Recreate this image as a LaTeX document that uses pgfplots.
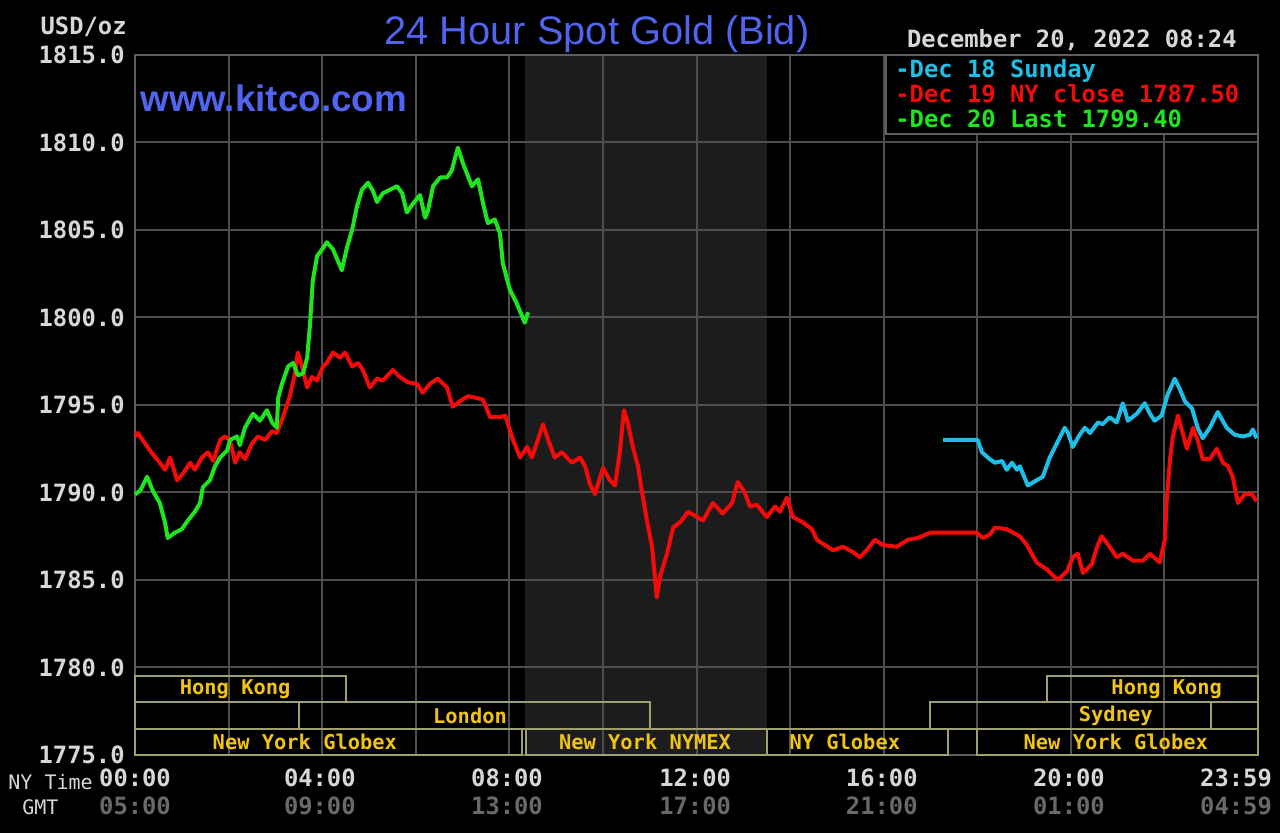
\documentclass[border=0pt]{standalone}
\usepackage{fontspec}
\setmainfont{Liberation Sans}
\newfontfamily\mono{DejaVu Sans Mono}
\usepackage{pgfplots}
\pgfplotsset{compat=1.18}
\definecolor{gridgray}{RGB}{78,78,78}
\definecolor{framegray}{RGB}{95,95,95}
\definecolor{shadegray}{RGB}{28,28,28}
\definecolor{ticktext}{RGB}{215,215,215}
\definecolor{dimtext}{RGB}{105,105,105}
\definecolor{titleblue}{RGB}{80,100,240}
\definecolor{cyanline}{RGB}{30,190,230}
\definecolor{redline}{RGB}{245,10,10}
\definecolor{greenline}{RGB}{30,230,30}
\definecolor{boxcol}{RGB}{160,160,110}
\definecolor{goldtext}{RGB}{240,195,20}
\pagecolor{black}
\newcommand\tickfont{\mono\bfseries\fontsize{11.9}{14}\selectfont}
\newcommand\sessfont{\mono\bfseries\fontsize{10.2}{12}\selectfont}
\begin{document}
\begin{tikzpicture}
\path (-67.5pt,-39pt) rectangle (572.5pt,377.5pt);
\begin{axis}[
  set layers,
  at={(0,0)}, anchor=south west,
  scale only axis, width=561.5pt, height=350pt,
  xmin=0, xmax=24, ymin=1775, ymax=1815,
  clip=false,
  axis line style={draw=framegray, line width=1pt},
  xmajorgrids=false, xminorgrids=true, ymajorgrids=true,
  major grid style={draw=gridgray, line width=1pt},
  minor grid style={draw=gridgray, line width=1pt},
  xtick={0,3.95,7.95,11.97,15.96,19.96,23.53},
  minor xtick={0,2,4,6,8,10,12,14,16,18,20,22,24},
  ytick={1775,1780,1785,1790,1795,1800,1805,1810,1815},
  major tick length=0pt, minor tick length=0pt,
  xticklabels={00:00,04:00,08:00,12:00,16:00,20:00,23:59},
  yticklabels={1775.0,1780.0,1785.0,1790.0,1795.0,1800.0,1805.0,1810.0,1815.0},
  ticklabel style={font=\tickfont, text=ticktext, inner sep=0pt},
  yticklabel style={anchor=east, xshift=-5pt},
  xticklabel style={anchor=base, yshift=-16pt},
  extra x ticks={0,3.95,7.95,11.97,15.96,19.96,23.53},
  extra x tick labels={05:00,09:00,13:00,17:00,21:00,01:00,04:59},
  extra x tick style={grid=none, xticklabel style={text=dimtext, yshift=-14pt}},
]
\begin{pgfonlayer}{axis background}
\fill[shadegray] (axis cs:8.333,1775) rectangle (axis cs:13.5,1815);
\end{pgfonlayer}
% session boxes
\draw[boxcol, line width=1pt] (axis cs:0,1778) rectangle (axis cs:4.5,1779.5);
\draw[boxcol, line width=1pt] (axis cs:19.5,1778) rectangle (axis cs:24,1779.5);
\draw[boxcol, line width=1pt] (axis cs:0,1776.5) rectangle (axis cs:3.5,1778);
\draw[boxcol, line width=1pt] (axis cs:3.5,1776.5) rectangle (axis cs:11,1778);
\draw[boxcol, line width=1pt] (axis cs:17,1776.5) rectangle (axis cs:23,1778);
\draw[boxcol, line width=1pt] (axis cs:23,1776.5) rectangle (axis cs:24,1778);
\draw[boxcol, line width=1pt] (axis cs:0,1775) rectangle (axis cs:8.27,1776.5);
\draw[boxcol, line width=1pt] (axis cs:8.36,1775) rectangle (axis cs:13.5,1776.5);
\draw[boxcol, line width=1pt] (axis cs:13.5,1775) rectangle (axis cs:17.37,1776.5);
\draw[boxcol, line width=1pt] (axis cs:18,1775) rectangle (axis cs:24,1776.5);
\tikzset{sess/.style={font=\sessfont, text=goldtext, inner sep=0pt}}
\node[sess] at (axis cs:2.14,1778.75) {Hong Kong};
\node[sess] at (axis cs:22.05,1778.75) {Hong Kong};
\node[sess] at (axis cs:7.16,1777.25) {London};
\node[sess] at (axis cs:20.96,1777.25) {Sydney};
\node[sess] at (axis cs:3.63,1775.75) {New York Globex};
\node[sess] at (axis cs:10.90,1775.75) {New York NYMEX};
\node[sess] at (axis cs:15.17,1775.75) {NY Globex};
\node[sess] at (axis cs:20.96,1775.75) {New York Globex};
% Dec 19
\addplot[redline, line width=2pt, line join=round] coordinates {
(0,1793.2)(0.06,1793.4)(0.32,1792.4)(0.53,1791.7)(0.64,1791.3)(0.75,1792.0)(0.90,1790.7)(1.03,1791.1)(1.18,1791.7)(1.28,1791.3)(1.43,1792.0)(1.56,1792.3)(1.67,1791.8)(1.82,1793.0)(1.92,1793.2)(2.03,1793.0)(2.14,1791.7)(2.24,1792.3)(2.35,1791.9)(2.50,1792.8)(2.63,1793.2)(2.78,1793.0)(2.93,1793.5)(3.03,1793.4)(3.16,1794.3)(3.31,1795.5)(3.42,1796.8)(3.48,1798.0)(3.57,1797.2)(3.68,1796.0)(3.78,1796.6)(3.89,1796.4)(4.02,1797.2)(4.10,1797.4)(4.23,1798.0)(4.38,1797.7)(4.49,1798.0)(4.64,1797.2)(4.77,1797.4)(4.87,1797.0)(5.02,1796.0)(5.17,1796.5)(5.30,1796.4)(5.51,1797.0)(5.66,1796.6)(5.83,1796.3)(6.03,1796.2)(6.15,1795.7)(6.30,1796.2)(6.47,1796.5)(6.67,1796.0)(6.79,1794.9)(6.99,1795.3)(7.12,1795.5)(7.31,1795.4)(7.44,1795.3)(7.59,1794.3)(7.80,1794.3)(7.91,1794.4)(8.08,1793.0)(8.23,1792.0)(8.38,1792.6)(8.48,1792.0)(8.61,1793.0)(8.72,1793.9)(8.83,1793.0)(8.97,1792.0)(9.12,1792.3)(9.34,1791.7)(9.51,1792.0)(9.62,1791.5)(9.72,1790.5)(9.83,1789.9)(10.00,1791.4)(10.15,1790.7)(10.26,1790.4)(10.36,1792.3)(10.45,1794.7)(10.53,1794.0)(10.64,1792.6)(10.75,1791.5)(10.83,1790.1)(10.94,1788.4)(11.05,1786.9)(11.15,1784.0)(11.22,1785.2)(11.37,1786.5)(11.50,1788.0)(11.65,1788.3)(11.82,1788.9)(12.01,1788.6)(12.14,1788.4)(12.35,1789.4)(12.56,1788.8)(12.76,1789.4)(12.88,1790.6)(13.03,1790.0)(13.14,1789.2)(13.29,1789.3)(13.50,1788.6)(13.68,1789.2)(13.78,1788.9)(13.93,1789.7)(14.06,1788.6)(14.27,1788.3)(14.47,1787.9)(14.57,1787.3)(14.74,1787.0)(14.92,1786.7)(15.13,1786.9)(15.34,1786.6)(15.49,1786.3)(15.64,1786.7)(15.81,1787.3)(15.98,1787.0)(16.28,1786.9)(16.52,1787.3)(16.73,1787.4)(16.99,1787.7)(17.99,1787.7)(18.12,1787.4)(18.27,1787.6)(18.38,1788.0)(18.63,1787.9)(18.91,1787.5)(19.06,1787.0)(19.27,1786.0)(19.49,1785.6)(19.72,1785.0)(19.92,1785.5)(20.04,1786.3)(20.15,1786.5)(20.26,1785.4)(20.45,1785.9)(20.56,1786.9)(20.66,1787.5)(20.83,1786.9)(20.98,1786.3)(21.11,1786.5)(21.33,1786.1)(21.54,1786.1)(21.69,1786.5)(21.90,1786.0)(22.01,1787.3)(22.05,1789.6)(22.12,1791.9)(22.18,1793.2)(22.29,1794.4)(22.37,1793.6)(22.48,1792.5)(22.61,1793.7)(22.71,1793.0)(22.82,1791.9)(22.97,1791.9)(23.12,1792.5)(23.25,1791.7)(23.36,1791.5)(23.46,1790.9)(23.57,1789.4)(23.72,1789.9)(23.87,1789.9)(23.97,1789.5)
};
% Dec 18
\addplot[cyanline, line width=2pt, line join=round] coordinates {
(17.27,1793.0)(18.01,1793.0)(18.10,1792.3)(18.27,1791.9)(18.38,1791.7)(18.53,1791.8)(18.63,1791.3)(18.74,1791.7)(18.85,1791.3)(18.91,1791.5)(19.08,1790.4)(19.27,1790.7)(19.40,1790.9)(19.55,1792.0)(19.70,1792.8)(19.87,1793.7)(19.94,1793.4)(20.04,1792.6)(20.19,1793.3)(20.30,1793.7)(20.41,1793.4)(20.58,1794.0)(20.68,1793.9)(20.83,1794.3)(20.98,1794.0)(21.11,1795.1)(21.22,1794.1)(21.41,1794.5)(21.58,1795.1)(21.69,1794.5)(21.79,1794.1)(21.94,1794.4)(22.07,1795.6)(22.22,1796.5)(22.33,1795.9)(22.44,1795.2)(22.59,1794.8)(22.71,1793.7)(22.82,1793.1)(22.97,1793.7)(23.14,1794.6)(23.33,1793.7)(23.50,1793.3)(23.68,1793.2)(23.83,1793.3)(23.89,1793.6)(23.97,1793.1)
};
% Dec 20
\addplot[greenline, line width=2pt, line join=round] coordinates {
(0,1789.9)(0.11,1790.1)(0.26,1790.9)(0.38,1790.1)(0.53,1789.4)(0.64,1788.3)(0.70,1787.4)(0.85,1787.7)(1.00,1787.9)(1.13,1788.4)(1.28,1788.9)(1.39,1789.4)(1.45,1790.3)(1.60,1790.7)(1.71,1791.5)(1.82,1792.0)(1.97,1792.4)(2.03,1793.0)(2.18,1793.2)(2.24,1792.7)(2.35,1793.7)(2.52,1794.5)(2.67,1794.1)(2.82,1794.7)(2.93,1794.0)(3.03,1793.7)(3.06,1795.4)(3.14,1796.2)(3.27,1797.2)(3.38,1797.4)(3.48,1796.7)(3.59,1796.8)(3.68,1797.7)(3.74,1799.6)(3.80,1802.1)(3.89,1803.5)(4.00,1803.9)(4.10,1804.3)(4.23,1803.9)(4.42,1802.7)(4.53,1804.0)(4.64,1805.0)(4.74,1806.3)(4.85,1807.3)(4.98,1807.7)(5.09,1807.2)(5.17,1806.6)(5.30,1807.1)(5.45,1807.3)(5.60,1807.5)(5.71,1807.1)(5.81,1806.0)(5.94,1806.5)(6.09,1807.0)(6.20,1805.7)(6.26,1806.1)(6.37,1807.5)(6.52,1808.0)(6.67,1808.0)(6.77,1808.4)(6.90,1809.7)(7.01,1808.8)(7.20,1807.5)(7.33,1807.9)(7.44,1806.5)(7.54,1805.4)(7.69,1805.6)(7.80,1804.8)(7.86,1803.1)(8.01,1801.6)(8.16,1800.8)(8.33,1799.7)(8.40,1800.3)
};
\end{axis}
% legend box
\draw[framegray, line width=1pt, fill=black] (375.5pt,310.5pt) rectangle (561.5pt,350pt);
\node[anchor=base west, inner sep=0pt, font=\tickfont, text=cyanline] at (380pt,338.5pt) {-Dec 18 Sunday};
\node[anchor=base west, inner sep=0pt, font=\tickfont, text=redline] at (380pt,326pt) {-Dec 19 NY close 1787.50};
\node[anchor=base west, inner sep=0pt, font=\tickfont, text=greenline] at (380pt,313.5pt) {-Dec 20 Last 1799.40};
% texts
\node[anchor=base, inner sep=0pt, font=\fontsize{19.9}{22}\selectfont, text=titleblue] at (231pt,355pt) {24 Hour Spot Gold (Bid)};
\node[anchor=base west, inner sep=0pt, font=\bfseries\fontsize{18.4}{20}\selectfont, text=titleblue] at (2.5pt,321.5pt) {www.kitco.com};
\node[anchor=base east, inner sep=0pt, font=\tickfont, text=ticktext] at (-4pt,360pt) {USD/oz};
\node[anchor=base east, inner sep=0pt, font=\tickfont, text=ticktext] at (551pt,353.5pt) {December 20, 2022 08:24};
\node[anchor=base west, inner sep=0pt, font=\mono\fontsize{10}{12}\selectfont, text=ticktext] at (-63.5pt,-17.5pt) {NY Time};
\node[anchor=base west, inner sep=0pt, font=\mono\fontsize{10}{12}\selectfont, text=ticktext] at (-56.5pt,-30pt) {GMT};
\end{tikzpicture}
\end{document}
